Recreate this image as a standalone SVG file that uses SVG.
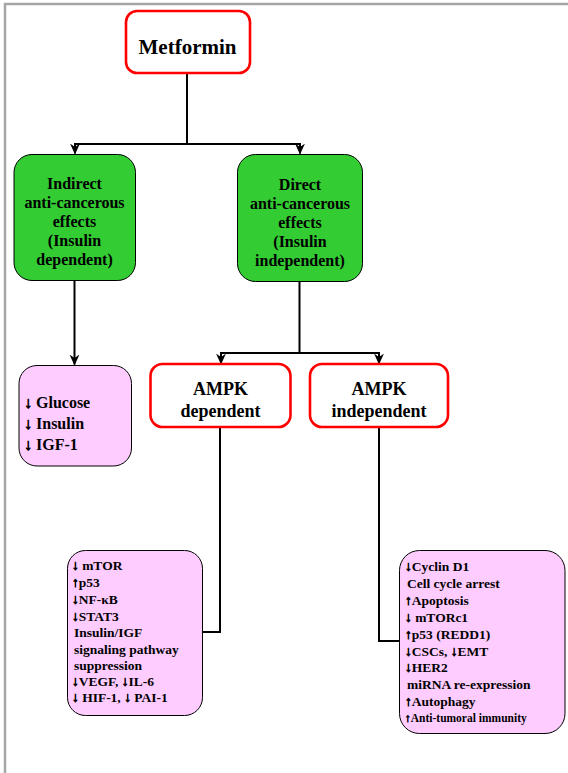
<svg xmlns="http://www.w3.org/2000/svg" width="568" height="773" viewBox="0 0 568 773">
<style>
.t{font-family:"Liberation Serif","Times New Roman",serif;font-weight:bold;fill:#000}
.c{text-anchor:middle}
.ar{stroke:#000;stroke-width:0.7}
.red{fill:#fff;stroke:#ff0000;stroke-width:2.6}
.green{fill:#33cc33;stroke:#000;stroke-width:1}
.pink{fill:#ffccff;stroke:#000;stroke-width:1}
.ln{fill:none;stroke:#000;stroke-width:2}
</style>
<defs>
<marker id="ah" viewBox="0 0 10 10" refX="9" refY="5" markerWidth="11" markerHeight="11" markerUnits="userSpaceOnUse" orient="auto">
<path d="M0,0.5 L10,5 L0,9.5 L3,5 Z" fill="#000"/>
</marker>
</defs>
<rect width="568" height="773" fill="#fff"/>
<path d="M5,773 V4 H568" fill="none" stroke="#a6a6a6" stroke-width="2.5"/>
<g id="connectors">
<path class="ln" d="M187,73 V144 M75,144 H300"/>
<path class="ln" d="M75,143 V153.5" marker-end="url(#ah)"/>
<path class="ln" d="M300,143 V153.5" marker-end="url(#ah)"/>
<path class="ln" d="M74.5,281 V364.5" marker-end="url(#ah)"/>
<path class="ln" d="M299.5,282 V353 M221,353 H379"/>
<path class="ln" d="M221,352 V363.5" marker-end="url(#ah)"/>
<path class="ln" d="M379,352 V363.5" marker-end="url(#ah)"/>
<path class="ln" d="M220,427 V632 H202"/>
<path class="ln" d="M379,427 V641 H399"/>
</g>
<g id="metformin">
<rect class="red" x="126" y="11" width="124" height="62" rx="11"/>
<text class="t c" x="187.5" y="54" font-size="21">Metformin</text>
</g>
<g id="indirect">
<rect class="green" x="14" y="154.5" width="121.5" height="126" rx="18"/>
<text class="t c" font-size="16"><tspan x="74.5" y="189">Indirect</tspan><tspan x="74.5" y="208">anti-cancerous</tspan><tspan x="74.5" y="227">effects</tspan><tspan x="74.5" y="246">(Insulin</tspan><tspan x="74.5" y="265">dependent)</tspan></text>
</g>
<g id="direct">
<rect class="green" x="237.5" y="154.5" width="125" height="127" rx="18"/>
<text class="t c" font-size="16"><tspan x="300" y="190">Direct</tspan><tspan x="300" y="209">anti-cancerous</tspan><tspan x="300" y="228">effects</tspan><tspan x="300" y="247">(Insulin</tspan><tspan x="300" y="265.5">independent)</tspan></text>
</g>
<g id="glucose">
<rect class="pink" x="19" y="365.5" width="112.5" height="100.5" rx="18"/>
<text class="t" font-size="16"><tspan x="24" y="408"><tspan class="ar">↓</tspan> Glucose</tspan><tspan x="24" y="429"><tspan class="ar">↓</tspan> Insulin</tspan><tspan x="24" y="450"><tspan class="ar">↓</tspan> IGF-1</tspan></text>
</g>
<g id="ampk-dependent">
<rect class="red" x="150.5" y="364" width="140" height="63" rx="12"/>
<text class="t c" font-size="18"><tspan x="220.5" y="395">AMPK</tspan><tspan x="220.5" y="417">dependent</tspan></text>
</g>
<g id="ampk-independent">
<rect class="red" x="310" y="364" width="138" height="63" rx="12"/>
<text class="t c" font-size="18"><tspan x="379" y="395">AMPK</tspan><tspan x="379" y="417">independent</tspan></text>
</g>
<g id="ampk-dependent-effects">
<rect class="pink" x="67.5" y="550.5" width="135" height="165" rx="18"/>
<text class="t" font-size="13.5"><tspan x="72" y="570"><tspan class="ar">↓</tspan> mTOR</tspan><tspan x="72" y="587"><tspan class="ar">↑</tspan>p53</tspan><tspan x="72" y="604"><tspan class="ar">↓</tspan>NF-κB</tspan><tspan x="72" y="621"><tspan class="ar">↓</tspan>STAT3</tspan><tspan x="74" y="637">Insulin/IGF</tspan><tspan x="74" y="654">signaling pathway</tspan><tspan x="74" y="670">suppression</tspan><tspan x="72" y="686"><tspan class="ar">↓</tspan>VEGF, <tspan class="ar">↓</tspan>IL-6</tspan><tspan x="72" y="702"><tspan class="ar">↓</tspan> HIF-1, <tspan class="ar">↓</tspan> PAI-1</tspan></text>
</g>
<g id="ampk-independent-effects">
<rect class="pink" x="399.5" y="550.5" width="165.5" height="183" rx="20"/>
<text class="t" font-size="13.5"><tspan x="405" y="571"><tspan class="ar">↓</tspan>Cyclin D1</tspan><tspan x="407" y="588">Cell cycle arrest</tspan><tspan x="405" y="605"><tspan class="ar">↑</tspan>Apoptosis</tspan><tspan x="405" y="622"><tspan class="ar">↓</tspan> mTORc1</tspan><tspan x="405" y="639"><tspan class="ar">↑</tspan>p53 (REDD1)</tspan><tspan x="405" y="656"><tspan class="ar">↓</tspan>CSCs, <tspan class="ar">↓</tspan>EMT</tspan><tspan x="405" y="672"><tspan class="ar">↓</tspan>HER2</tspan><tspan x="407" y="689">miRNA re-expression</tspan><tspan x="405" y="706"><tspan class="ar">↑</tspan>Autophagy</tspan></text>
<text class="t" font-size="11.5" x="405" y="722"><tspan class="ar">↑</tspan>Anti-tumoral immunity</text>
</g>
</svg>
